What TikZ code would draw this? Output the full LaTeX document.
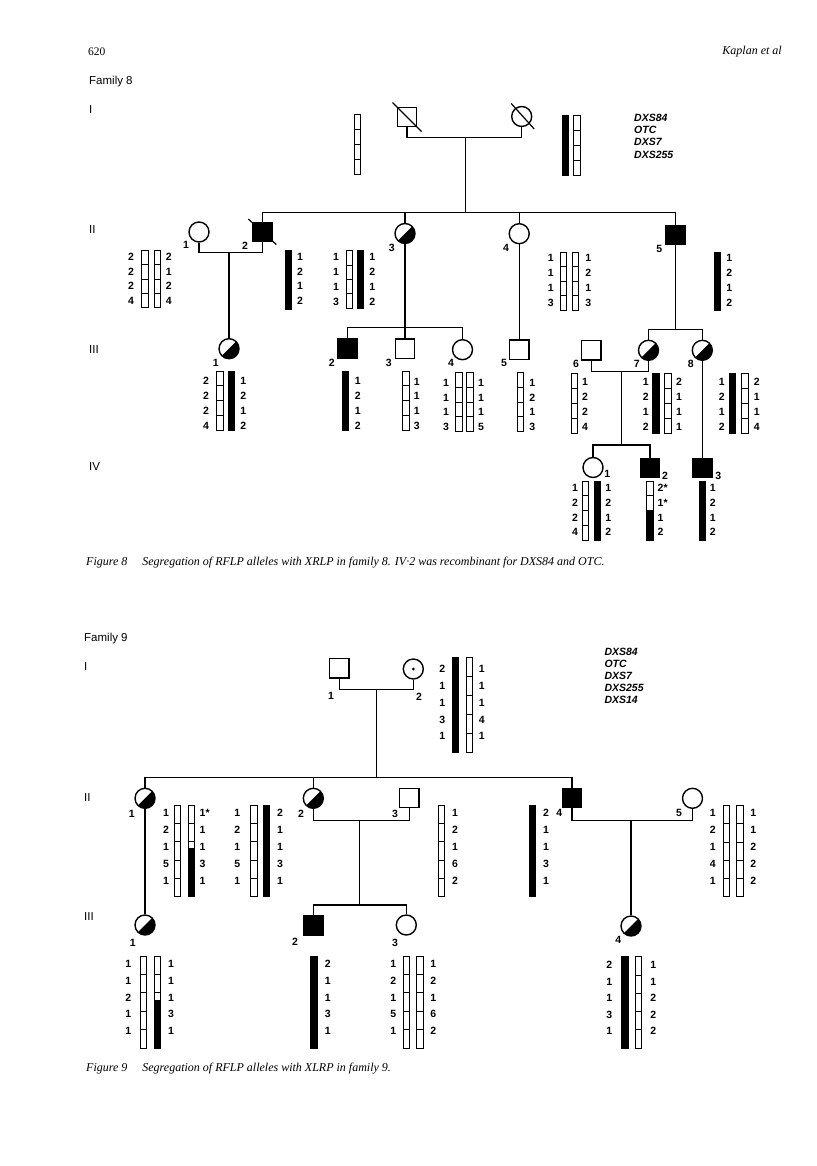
\documentclass[tikz,border=0pt]{standalone}
\usepackage{fontspec}
\setmainfont{Liberation Serif}
\setsansfont{Liberation Sans}
\newcommand{\OBar}[4]{%
  \pgfmathsetmacro\segh{(#3-#2)/#4}%
  \draw[chr] (#1,#2) rectangle (#1+6.5,#3);%
  \pgfmathtruncatemacro\nm{#4-1}%
  \foreach \k in {1,...,\nm} {\draw[chr] (#1,#2+\k*\segh) -- (#1+6.5,#2+\k*\segh);}%
}
\newcommand{\BBar}[3]{\filldraw[chr] (#1,#2) rectangle (#1+6.5,#3);}
\newcommand{\MBar}[5]{\OBar{#1}{#2}{#3}{#4}\filldraw[chr] (#1,#5) rectangle (#1+6.5,#3);}
\newcommand{\Labs}[4]{\foreach \t [count=\i from 0] in {#4} {\node[num] at (#1,#2+\i*#3) {\t};}}
\newcommand{\LabsW}[4]{\foreach \t [count=\i from 0] in {#4} {\node[num,anchor=west] at (#1,#2+\i*#3) {\t};}}
\begin{document}
\begin{tikzpicture}[x=1pt,y=-1pt,
  lin/.style={line width=1.2pt},
  chr/.style={line width=1pt},
  sym/.style={draw, line width=1.4pt, inner sep=0pt, minimum size=19.5pt},
  sq/.style={sym, rectangle},
  ci/.style={sym, circle, minimum size=20pt},
  aff/.style={fill=black},
  carrier/.style={path picture={\fill (path picture bounding box.north east) -- (path picture bounding box.south west) -- (path picture bounding box.south east) -- cycle;}},
  num/.style={font=\sffamily\bfseries\fontsize{10.5}{12}\selectfont, inner sep=0pt},
  gen/.style={font=\sffamily\fontsize{11.5}{13}\selectfont, inner sep=0pt, anchor=west},
  mk/.style={font=\sffamily\bfseries\itshape\fontsize{10.5}{12}\selectfont, inner sep=0pt, anchor=west},
  captxt/.style={font=\rmfamily\itshape\fontsize{12}{14}\selectfont, inner sep=0pt, anchor=west}
]
\fill[white] (0,0) rectangle (816,1166);
\useasboundingbox (0,0) rectangle (816,1166);

% header
\node[font=\rmfamily\fontsize{11.5}{13}\selectfont, inner sep=0pt, anchor=west] (pg) at (88,52) {620};
\node[font=\rmfamily\itshape\fontsize{12}{14}\selectfont, inner sep=0pt, anchor=east] (au) at (782,52) {Kaplan et al};

% ================= Family 8 =================
\node[gen] (f8) at (89,82) {Family 8};
\node[gen] (g8i) at (89,110) {I};
\node[gen] (g8ii) at (89,229.5) {II};
\node[gen] (g8iii) at (89,350) {III};
\node[gen] (g8iv) at (89,467) {IV};

\node[mk] (k81) at (634,118.3) {DXS84};
\node[mk] (k82) at (634,130.3) {OTC};
\node[mk] (k83) at (634,142.3) {DXS7};
\node[mk] (k84) at (634,154.5) {DXS255};

\node[sq] (I1) at (407,117) {};
\node[ci] (I2) at (521.7,116.5) {};
\draw[lin] ([shift={(-14.5,-14.5)}]I1.center) -- ([shift={(14.5,14.5)}]I1.center);
\draw[lin] ([shift={(-10.5,-13)}]I2.center) -- ([shift={(12.5,12.5)}]I2.center);

\node[ci] (II1) at (199,232) {};
\node[sq,aff] (II2) at (262.3,232) {};
\draw[lin] ([shift={(-14,-13)}]II2.center) -- ([shift={(14,12.5)}]II2.center);
\node[ci,carrier] (II3) at (405,233.5) {};
\node[ci] (II4) at (519.2,233.7) {};
\node[sq,aff] (II5) at (675.3,235) {};

\node[ci,carrier] (III1) at (229,348.7) {};
\node[sq,aff] (III2) at (347.3,348.7) {};
\node[sq] (III3) at (405,348.7) {};
\node[ci] (III4) at (462.5,349.7) {};
\node[sq] (III5) at (519.2,349.7) {};
\node[sq] (III6) at (591.2,350.3) {};
\node[ci,carrier] (III7) at (648.5,350.3) {};
\node[ci,carrier] (III8) at (702.3,350.3) {};

\node[ci] (IV1) at (593,467.5) {};
\node[sq,aff] (IV2) at (650,468) {};
\node[sq,aff] (IV3) at (702.3,468) {};

% connectors family 8
\coordinate (f8a) at (465.7,137.7);
\coordinate (f8b) at (465.7,212.7);
\draw[lin] (I1.south) |- (f8a) -| (I2.south);
\draw[lin] (f8a) -- (f8b);
\draw[lin] (II2.north) |- (f8b) -| (II5.north);
\draw[lin] (II3.north) -- (II3.north |- f8b);
\draw[lin] (II4.north) -- (II4.north |- f8b);
\coordinate (m2) at (229,252.7);
\draw[lin] (II1.south) |- (m2) -| (II2.south);
\draw[lin] (m2) -- (III1.north);
\coordinate (m3) at (405,327.7);
\draw[lin] (II3.south) -- (III3.north);
\draw[lin] (III2.north) |- (m3) -| (III4.north);
\draw[lin] (II4.south) -- (III5.north);
\coordinate (m5) at (675.3,329.3);
\draw[lin] (II5.south) -- (m5);
\draw[lin] (III7.north) |- (m5) -| (III8.north);
\coordinate (m6) at (621.7,371.7);
\coordinate (m7) at (621.7,445);
\draw[lin] (III6.south) |- (m6) -| (III7.south);
\draw[lin] (m6) -- (m7);
\draw[lin] (IV1.north) |- (m7) -| (IV2.north);
\draw[lin] (III8.south) -- (IV3.north);

% individual numbers family 8
\node[num] (nII1) at (186,245) {1};
\node[num] (nII2) at (245,246) {2};
\node[num] (nII3) at (391.7,247.7) {3};
\node[num] (nII4) at (506,247.7) {4};
\node[num] (nII5) at (659.3,249.3) {5};
\node[num] (nIII1) at (215.7,362.7) {1};
\node[num] (nIII2) at (331.7,362.7) {2};
\node[num] (nIII3) at (388.7,362.7) {3};
\node[num] (nIII4) at (451,362.7) {4};
\node[num] (nIII5) at (504,362.7) {5};
\node[num] (nIII6) at (576,364) {6};
\node[num] (nIII7) at (636.7,364) {7};
\node[num] (nIII8) at (690.7,364) {8};
\node[num] (nIV1) at (607.3,474) {1};
\node[num] (nIV2) at (665,476) {2};
\node[num] (nIV3) at (718.3,476) {3};

% chromosomes family 8
\OBar{354}{114.3}{175}{4}
\BBar{562.3}{116}{176}
\OBar{573.7}{116}{176}{4}

\OBar{141.7}{250.7}{307.3}{4}
\OBar{154}{250.7}{307.3}{4}
\Labs{131}{257.3}{14.5}{2,2,2,4}
\Labs{168.7}{257.3}{14.5}{2,1,2,4}

\BBar{285.3}{250.7}{309}
\Labs{300}{257.3}{14.5}{1,2,1,2}

\OBar{346}{250.7}{308}{4}
\BBar{357.3}{250.7}{308}
\Labs{336}{257.3}{14.8}{1,1,1,3}
\Labs{372.3}{257.3}{14.8}{1,2,1,2}

\OBar{560}{252.3}{310}{4}
\OBar{572.3}{252.3}{310}{4}
\Labs{550.7}{258.3}{15}{1,1,1,3}
\Labs{588.3}{258.3}{15}{1,2,1,3}

\BBar{714}{252.3}{310}
\Labs{729.3}{258.3}{15}{1,2,1,2}

\OBar{216.7}{371}{430}{4}
\BBar{228.3}{371}{430}
\Labs{206}{381}{15}{2,2,2,4}
\Labs{243.3}{381}{15}{1,2,1,2}

\BBar{342}{371}{430}
\Labs{357.7}{381}{15}{1,2,1,2}

\OBar{402.7}{371}{430}{4}
\Labs{416.7}{381.5}{14.8}{1,1,1,3}

\OBar{455.7}{372.7}{431.7}{4}
\OBar{466.7}{372.7}{431.7}{4}
\Labs{446}{382.7}{14.7}{1,1,1,3}
\Labs{481}{382.7}{14.7}{1,1,1,5}

\OBar{517.3}{372.7}{431.7}{4}
\Labs{532.3}{382.7}{14.7}{1,2,1,3}

\OBar{571}{373.3}{433.3}{4}
\Labs{585}{382.3}{15}{1,2,2,4}

\BBar{652.7}{373.3}{433.3}
\OBar{664.7}{373.3}{433.3}{4}
\Labs{645.7}{382.3}{15}{1,2,1,2}
\Labs{679}{382.3}{15}{2,1,1,1}

\BBar{729}{373.3}{433.3}
\OBar{741.7}{373.3}{433.3}{4}
\Labs{721.7}{382.3}{15}{1,2,1,2}
\Labs{756.7}{382.3}{15}{2,1,1,4}

\OBar{582.3}{481}{540.7}{4}
\BBar{594}{481}{540.7}
\Labs{575}{488.3}{14.6}{1,2,2,4}
\Labs{608.3}{488.3}{14.6}{1,2,1,2}

\MBar{646.7}{481}{540.7}{4}{510.8}
\LabsW{657.5}{488.3}{14.6}{2*,1*,1,2}

\BBar{699}{481}{540.7}
\Labs{712.7}{488.3}{14.6}{1,2,1,2}

\node[captxt] (c8) at (86,563) {Figure 8\quad\ Segregation of RFLP alleles with XRLP in family 8. IV\textperiodcentered 2 was recombinant for DXS84 and OTC.};

% ================= Family 9 =================
\node[gen] (f9) at (84,639) {Family 9};
\node[gen] (g9i) at (84,666.7) {I};
\node[gen] (g9ii) at (84,797.7) {II};
\node[gen] (g9iii) at (84,917) {III};

\node[mk] (k91) at (604.3,651.7) {DXS84};
\node[mk] (k92) at (604.3,663.7) {OTC};
\node[mk] (k93) at (604.3,675.7) {DXS7};
\node[mk] (k94) at (604.3,687.7) {DXS255};
\node[mk] (k95) at (604.3,699.7) {DXS14};

\node[sq] (AI1) at (339.2,668.3) {};
\node[ci] (AI2) at (413.3,669) {};
\fill (AI2.center) circle[radius=1.5pt];

\node[ci,carrier] (AII1) at (145,798.3) {};
\node[ci,carrier] (AII2) at (313.3,798.3) {};
\node[sq] (AII3) at (409.3,798) {};
\node[sq,aff] (AII4) at (572,798) {};
\node[ci] (AII5) at (692.5,798.3) {};

\node[ci,carrier] (AIII1) at (145,925) {};
\node[sq,aff] (AIII2) at (313.3,925.5) {};
\node[ci] (AIII3) at (406.3,925) {};
\node[ci,carrier] (AIII4) at (631,926) {};

\coordinate (g1) at (376.7,689.3);
\coordinate (g2) at (376.7,777.7);
\draw[lin] (AI1.south) |- (g1) -| (AI2.south);
\draw[lin] (g1) -- (g2);
\draw[lin] (AII1.north) |- (g2) -| (AII4.north);
\draw[lin] (AII2.north) -- (AII2.north |- g2);
\draw[lin] (AII1.south) -- (AIII1.north);
\coordinate (g3) at (359.3,820.7);
\coordinate (g4) at (359.3,905);
\draw[lin] (AII2.south) |- (g3) -| (AII3.south);
\draw[lin] (g3) -- (g4);
\draw[lin] (AIII2.north) |- (g4) -| (AIII3.north);
\coordinate (g5) at (631,820.7);
\draw[lin] (AII4.south) |- (g5) -| (AII5.south);
\draw[lin] (g5) -- (AIII4.north);

\node[num] (aI1) at (331,696) {1};
\node[num] (aI2) at (419,696.7) {2};
\node[num] (aII1) at (131.7,813.5) {1};
\node[num] (aII2) at (301,814) {2};
\node[num] (aII3) at (395,814) {3};
\node[num] (aII4) at (559.3,813.3) {4};
\node[num] (aII5) at (679,813.3) {5};
\node[num] (aIII1) at (132.7,942.7) {1};
\node[num] (aIII2) at (295,941.7) {2};
\node[num] (aIII3) at (395,942.7) {3};
\node[num] (aIII4) at (618.3,940) {4};

% chromosomes family 9
\BBar{452.3}{657.7}{752.3}
\OBar{466}{657.7}{752.3}{5}
\Labs{442.3}{669}{16.8}{2,1,1,3,1}
\Labs{481.7}{669}{16.8}{1,1,1,4,1}

\OBar{174}{805}{896.7}{5}
\MBar{188.3}{805}{896.7}{5}{848.3}
\Labs{166}{813.3}{16.8}{1,2,1,5,1}
\LabsW{199.5}{813.3}{16.8}{1*,1,1,3,1}

\OBar{250.7}{805}{896.7}{5}
\BBar{263.3}{805}{896.7}
\Labs{237.3}{813.3}{16.8}{1,2,1,5,1}
\Labs{280}{813.3}{16.8}{2,1,1,3,1}

\OBar{438}{805}{896.7}{5}
\Labs{455}{813.3}{16.8}{1,2,1,6,2}

\BBar{529.3}{805.7}{896.7}
\Labs{546}{813.3}{16.8}{2,1,1,3,1}

\OBar{723.3}{805.7}{896.7}{5}
\OBar{736.7}{805.7}{896.7}{5}
\Labs{712.7}{813.3}{16.8}{1,2,1,4,1}
\Labs{753.3}{813.3}{16.8}{1,1,2,2,2}

\OBar{140}{956}{1048.3}{5}
\MBar{154}{956}{1048.3}{5}{1000}
\Labs{128.3}{964.3}{16.6}{1,1,2,1,1}
\Labs{171}{964.3}{16.6}{1,1,1,3,1}

\BBar{310.7}{956}{1048.3}
\Labs{327.7}{964.3}{16.6}{2,1,1,3,1}

\OBar{403.3}{956}{1048.3}{5}
\OBar{416.7}{956}{1048.3}{5}
\Labs{393.3}{964.3}{16.6}{1,2,1,5,1}
\Labs{433.3}{964.3}{16.6}{1,2,1,6,2}

\BBar{621.7}{956.7}{1048.3}
\OBar{635}{956.7}{1048.3}{5}
\Labs{609.3}{965}{16.5}{2,1,1,3,1}
\Labs{653.3}{965}{16.5}{1,1,2,2,2}

\node[captxt] (c9) at (86,1069) {Figure 9\quad\ Segregation of RFLP alleles with XLRP in family 9.};
\end{tikzpicture}
\end{document}
